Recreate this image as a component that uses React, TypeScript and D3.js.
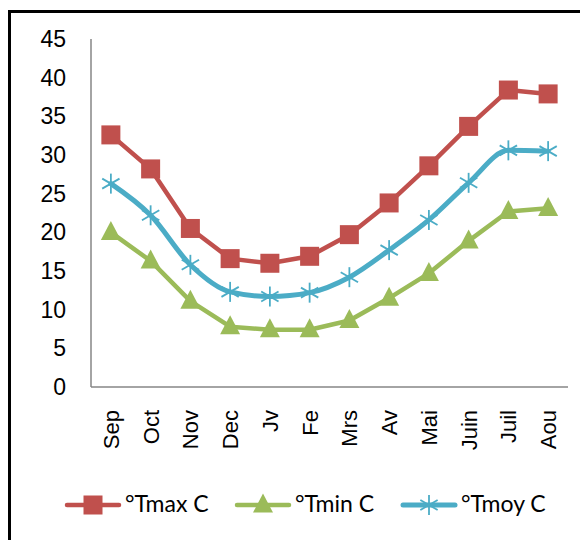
import React from "react";
import * as d3 from "d3";

// Monthly temperatures (°C), September to August
const months = ["Sep", "Oct", "Nov", "Dec", "Jv", "Fe", "Mrs", "Av", "Mai", "Juin", "Juil", "Aou"];
const tmax = [32.6, 28.2, 20.5, 16.6, 16.0, 16.9, 19.7, 23.8, 28.6, 33.7, 38.4, 37.9];
const tmin = [20.0, 16.3, 11.1, 7.8, 7.4, 7.4, 8.6, 11.5, 14.7, 18.9, 22.7, 23.1];
const tmoy = [26.3, 22.2, 15.8, 12.3, 11.7, 12.2, 14.2, 17.7, 21.6, 26.4, 30.6, 30.5];
const yTicks = [0, 5, 10, 15, 20, 25, 30, 35, 40, 45];

const W = 580;
const H = 540;
const plot = { left: 91, right: 568, top: 39, bottom: 387 };

const RED = "#C0504D";
const GREEN = "#9BBB59";
const BLUE = "#4BACC6";
const AXIS = "#868686";
const NUM_FONT = "'Liberation Sans', Arial, sans-serif";
const LEGEND_FONT = "Lato, 'Open Sans', sans-serif";

type Kind = "square" | "triangle" | "star";

function Marker({ kind, x, y, color }: { kind: Kind; x: number; y: number; color: string }) {
  if (kind === "square") {
    const s = 19;
    return <rect x={x - s / 2} y={y - s / 2} width={s} height={s} fill={color} />;
  }
  if (kind === "triangle") {
    const w = 20;
    const h = 19;
    const pts = `${x},${y - h * 0.6} ${x + w / 2},${y + h * 0.4} ${x - w / 2},${y + h * 0.4}`;
    return <polygon points={pts} fill={color} />;
  }
  const r = 10;
  const d = r * 0.866;
  return (
    <g stroke={color} strokeWidth={1.8} fill="none">
      <line x1={x} y1={y - r} x2={x} y2={y + r} />
      <line x1={x - d} y1={y - r / 2} x2={x + d} y2={y + r / 2} />
      <line x1={x - d} y1={y + r / 2} x2={x + d} y2={y - r / 2} />
    </g>
  );
}

export default function App() {
  const x = d3
    .scaleBand<string>()
    .domain(months)
    .range([plot.left, plot.right]);
  const y = d3.scaleLinear().domain([0, 45]).range([plot.bottom, plot.top]);
  const cx = (m: string) => (x(m) as number) + x.bandwidth() / 2;

  const series: { name: string; values: number[]; color: string; kind: Kind; curve: d3.CurveFactory; width: number }[] = [
    { name: "°Tmax C", values: tmax, color: RED, kind: "square", curve: d3.curveLinear, width: 4.5 },
    { name: "°Tmin C", values: tmin, color: GREEN, kind: "triangle", curve: d3.curveLinear, width: 4.5 },
    { name: "°Tmoy C", values: tmoy, color: BLUE, kind: "star", curve: d3.curveMonotoneX, width: 5 },
  ];

  const legendX = [67, 237, 403];
  const legendY = 505;

  return (
    <svg
      width={W}
      height={H}
      style={{ position: "absolute", left: 0, top: 0, background: "#fff" }}
    >
      {/* outer frame, open to the right and bottom */}
      <rect x={9.5} y={11.5} width={W + 20} height={H + 20} fill="#fff" stroke="#000" strokeWidth={3} />

      {/* axes */}
      <line x1={plot.left} y1={plot.top} x2={plot.left} y2={plot.bottom} stroke={AXIS} strokeWidth={1.5} />
      <line x1={plot.left} y1={plot.bottom} x2={plot.right} y2={plot.bottom} stroke={AXIS} strokeWidth={1.5} />

      {yTicks.map((t) => (
        <text
          key={t}
          x={66}
          y={y(t)}
          dy="0.35em"
          textAnchor="end"
          fontFamily={NUM_FONT}
          fontSize={23}
          fill="#000"
        >
          {t}
        </text>
      ))}

      {months.map((m) => (
        <text
          key={m}
          transform={`translate(${cx(m)},410) rotate(-90)`}
          dy="0.36em"
          textAnchor="end"
          fontFamily={NUM_FONT}
          fontSize={22}
          fill="#000"
        >
          {m}
        </text>
      ))}

      {series.map((s) => {
        const line = d3
          .line<number>()
          .x((_, i) => cx(months[i]))
          .y((v) => y(v))
          .curve(s.curve);
        return (
          <g key={s.name}>
            <path d={line(s.values) || ""} fill="none" stroke={s.color} strokeWidth={s.width} strokeLinejoin="round" strokeLinecap="round" />
            {s.values.map((v, i) => (
              <Marker key={i} kind={s.kind} x={cx(months[i])} y={y(v)} color={s.color} />
            ))}
          </g>
        );
      })}

      {/* legend */}
      {series.map((s, i) => {
        const lx = legendX[i];
        return (
          <g key={s.name}>
            <line x1={lx} y1={legendY} x2={lx + 52} y2={legendY} stroke={s.color} strokeWidth={s.width} strokeLinecap="round" />
            <Marker kind={s.kind} x={lx + 26} y={legendY} color={s.color} />
            <text x={lx + 58} y={legendY + 7} fontFamily={LEGEND_FONT} fontSize={23} fill="#000">
              {s.name}
            </text>
          </g>
        );
      })}
    </svg>
  );
}
